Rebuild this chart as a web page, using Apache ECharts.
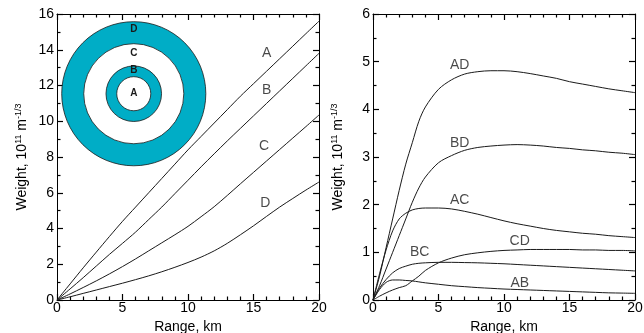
<!DOCTYPE html>
<html><head><meta charset="utf-8">
<script src="https://cdn.jsdelivr.net/npm/echarts@6/dist/echarts.min.js"></script>
<style>html,body{margin:0;padding:0;background:#fff}#c{width:644px;height:333px}</style>
</head><body><div id="c"></div>
<script>
// ---- Left panel data (Range km -> Weight) ----
const leftRange = [0, 1, 2, 3, 4, 5, 6, 7, 8, 9, 10, 11, 12, 13, 14, 15, 16, 17, 18, 19, 20];
const curveA = [0, 0.9, 1.8, 2.68, 3.55, 4.4, 5.2, 6.0, 6.8, 7.6, 8.4, 9.15, 9.9, 10.65, 11.4, 12.1, 12.8, 13.5, 14.2, 14.9, 15.6];
const curveB = [0, 0.62, 1.25, 1.9, 2.55, 3.17, 3.8, 4.5, 5.2, 5.95, 6.7, 7.45, 8.18, 8.9, 9.6, 10.3, 11.0, 11.7, 12.4, 13.1, 13.8];
const curveC = [0, 0.34, 0.7, 1.07, 1.46, 1.87, 2.3, 2.75, 3.2, 3.65, 4.12, 4.66, 5.22, 5.85, 6.5, 7.14, 7.78, 8.42, 9.06, 9.7, 10.35];
const curveD = [0, 0.18, 0.37, 0.56, 0.75, 0.94, 1.14, 1.35, 1.58, 1.83, 2.1, 2.4, 2.75, 3.17, 3.65, 4.15, 4.68, 5.2, 5.68, 6.15, 6.6];
const leftNames = ['A', 'B', 'C', 'D'];
const leftLabelX = [16.0, 16.0, 15.8, 15.9];
const leftLabelY = [13.8, 11.75, 8.58, 5.41];

// ---- Right panel data ----
const rightRange = [0, 0.5, 1, 1.5, 2, 2.5, 3, 3.5, 4, 5, 6, 7, 8, 9, 10, 11, 12, 13, 14, 15, 16, 17, 18, 19, 20];
const curveAD = [0, 0.5, 1.1, 1.7, 2.3, 2.85, 3.3, 3.75, 4.05, 4.42, 4.62, 4.74, 4.79, 4.81, 4.81, 4.79, 4.75, 4.7, 4.65, 4.58, 4.53, 4.48, 4.43, 4.39, 4.35];
const curveBD = [0, 0.3, 0.65, 1.0, 1.35, 1.7, 2.05, 2.35, 2.58, 2.88, 3.03, 3.14, 3.2, 3.23, 3.25, 3.26, 3.25, 3.23, 3.2, 3.18, 3.15, 3.13, 3.1, 3.08, 3.05];
const curveAC = [0, 0.55, 1.05, 1.45, 1.7, 1.82, 1.89, 1.92, 1.93, 1.93, 1.91, 1.86, 1.8, 1.73, 1.66, 1.6, 1.55, 1.5, 1.46, 1.43, 1.4, 1.38, 1.35, 1.33, 1.31];
const curveCD = [0, 0.08, 0.15, 0.21, 0.26, 0.3, 0.4, 0.5, 0.62, 0.78, 0.88, 0.95, 0.99, 1.02, 1.04, 1.05, 1.06, 1.06, 1.06, 1.06, 1.05, 1.05, 1.04, 1.04, 1.03];
const curveBC = [0, 0.25, 0.43, 0.57, 0.66, 0.71, 0.75, 0.77, 0.78, 0.79, 0.79, 0.785, 0.78, 0.77, 0.76, 0.745, 0.73, 0.715, 0.7, 0.685, 0.67, 0.655, 0.64, 0.625, 0.61];
const curveAB = [0, 0.22, 0.37, 0.42, 0.42, 0.41, 0.4, 0.38, 0.36, 0.33, 0.3, 0.28, 0.26, 0.245, 0.23, 0.22, 0.21, 0.2, 0.19, 0.18, 0.17, 0.16, 0.15, 0.145, 0.14];
const rightNames = ['AD', 'BD', 'AC', 'BC', 'CD', 'AB'];
const rightLabelX = [6.62, 6.62, 6.62, 3.56, 11.2, 11.2];
const rightLabelY = [4.93, 3.29, 2.1, 1.0, 1.24, 0.35];

// ---- Ticks: [min, max, major interval, minor splits] ----
const xTicks = [0, 20, 5, 5];
const leftYTicks = [0, 16, 2, 2];
const rightYTicks = [0, 6, 1, 2];

// ---- Inset target (center in left-panel data coords, radii in km) ----
const insetCenter = [5.86, 11.54];
const insetRadii = [5.5, 3.82, 2.12, 1.3];
const insetLetters = ['D', 'C', 'B', 'A'];

const FONT = 'Liberation Sans, Arial, Helvetica, sans-serif';
const INK = '#000000';
const TEAL = '#00adc6';
const FS = 14;

function pairs(xs, ys) { return xs.map((x, i) => [x, ys[i]]); }

const grids = [
  { left: 57, top: 14, width: 262, height: 286, containLabel: false, outerBoundsMode: 'none' },
  { left: 373, top: 14, width: 262, height: 286, containLabel: false, outerBoundsMode: 'none' }
];

function ticks(split) {
  return {
    axisTick: { show: true, inside: true, length: 6, lineStyle: { color: INK, width: 1.2 } },
    minorTick: { show: true, splitNumber: split, length: 3.5, lineStyle: { color: INK, width: 1.2 } }
  };
}

function mkX(gi, pos, showLabel) {
  return Object.assign({
    type: 'value', gridIndex: gi, position: pos, min: xTicks[0], max: xTicks[1], interval: xTicks[2],
    axisLine: { show: true, onZero: false, lineStyle: { color: INK, width: 1 } },
    splitLine: { show: false },
    axisLabel: { show: showLabel, color: INK, fontFamily: FONT, fontSize: FS, margin: 1 },
    name: showLabel ? 'Range, km' : '', nameLocation: 'middle', nameGap: 14,
    nameTextStyle: { color: INK, fontFamily: FONT, fontSize: FS }
  }, ticks(xTicks[3]));
}
function mkY(gi, pos, t, showLabel) {
  return Object.assign({
    type: 'value', gridIndex: gi, position: pos, min: t[0], max: t[1], interval: t[2],
    axisLine: { show: true, onZero: false, lineStyle: { color: INK, width: 1 } },
    splitLine: { show: false },
    axisLabel: { show: showLabel, color: INK, fontFamily: FONT, fontSize: FS, margin: 3 },
    name: showLabel ? 'Weight, 10{sup|11} m{sup|-1/3}' : '', nameLocation: 'middle', nameGap: 26, nameRotate: 90,
    nameTextStyle: { color: INK, fontFamily: FONT, fontSize: FS,
      rich: { sup: { fontSize: 9, fontFamily: FONT, color: INK, padding: [0, 0, 8, 0] } } }
  }, ticks(t[3]));
}

const lineStyle = { color: '#1a1a1a', width: 1 };
function lineSeries(name, xi, yi, xs, ys) {
  return { name, type: 'line', xAxisIndex: xi, yAxisIndex: yi, data: pairs(xs, ys), showSymbol: false,
    smooth: 0.3, lineStyle, z: 3, silent: true };
}
function labelSeries(xi, yi, names, lx, ly) {
  return { type: 'scatter', xAxisIndex: xi, yAxisIndex: yi, symbolSize: 0, silent: true, z: 5,
    data: names.map((n, i) => ({ value: [lx[i], ly[i]], name: n })),
    label: { show: true, position: 'inside', formatter: p => p.name, color: '#1a1a1a', fontFamily: FONT, fontSize: FS } };
}

const chart = echarts.init(document.getElementById('c'), null, { renderer: 'canvas' });
chart.setOption({
  animation: false,
  grid: grids,
  xAxis: [mkX(0, 'bottom', true), mkX(0, 'top', false), mkX(1, 'bottom', true), mkX(1, 'top', false)],
  yAxis: [mkY(0, 'left', leftYTicks, true), mkY(0, 'right', leftYTicks, false),
          mkY(1, 'left', rightYTicks, true), mkY(1, 'right', rightYTicks, false)],
  series: [
    lineSeries('A', 0, 0, leftRange, curveA),
    lineSeries('B', 0, 0, leftRange, curveB),
    lineSeries('C', 0, 0, leftRange, curveC),
    lineSeries('D', 0, 0, leftRange, curveD),
    labelSeries(0, 0, leftNames, leftLabelX, leftLabelY),
    lineSeries('AD', 2, 2, rightRange, curveAD),
    lineSeries('BD', 2, 2, rightRange, curveBD),
    lineSeries('AC', 2, 2, rightRange, curveAC),
    lineSeries('CD', 2, 2, rightRange, curveCD),
    lineSeries('BC', 2, 2, rightRange, curveBC),
    lineSeries('AB', 2, 2, rightRange, curveAB),
    labelSeries(2, 2, rightNames, rightLabelX, rightLabelY)
  ]
});

function insetElems() {
  const toPx = v => chart.convertToPixel({ xAxisIndex: 0, yAxisIndex: 0 }, v);
  const c = toPx(insetCenter);
  const o = toPx([0, 0]);
  const fills = [TEAL, '#ffffff', TEAL, '#ffffff'];
  const rpx = insetRadii.map(r => toPx([r, 0])[0] - o[0]);
  const elems = [];
  rpx.forEach((rp, i) => {
    elems.push({ type: 'circle', silent: true, shape: { cx: c[0], cy: c[1], r: rp },
      style: { fill: fills[i], stroke: '#1a1a1a', lineWidth: 0.8 }, z: 10 });
  });
  const letterY = [c[1] - (rpx[0] + rpx[1]) / 2 - 3, c[1] - (rpx[1] + rpx[2]) / 2 - 2, c[1] - (rpx[2] + rpx[3]) / 2 - 1, c[1]];
  insetLetters.forEach((t, i) => {
    elems.push({ type: 'text', x: c[0], y: letterY[i], z: 11, silent: true,
      style: { text: t, fill: '#1a1a1a', font: 'bold 10px ' + FONT, align: 'center', verticalAlign: 'middle' } });
  });
  return elems;
}
chart.setOption({ graphic: insetElems() });
</script></body></html>
